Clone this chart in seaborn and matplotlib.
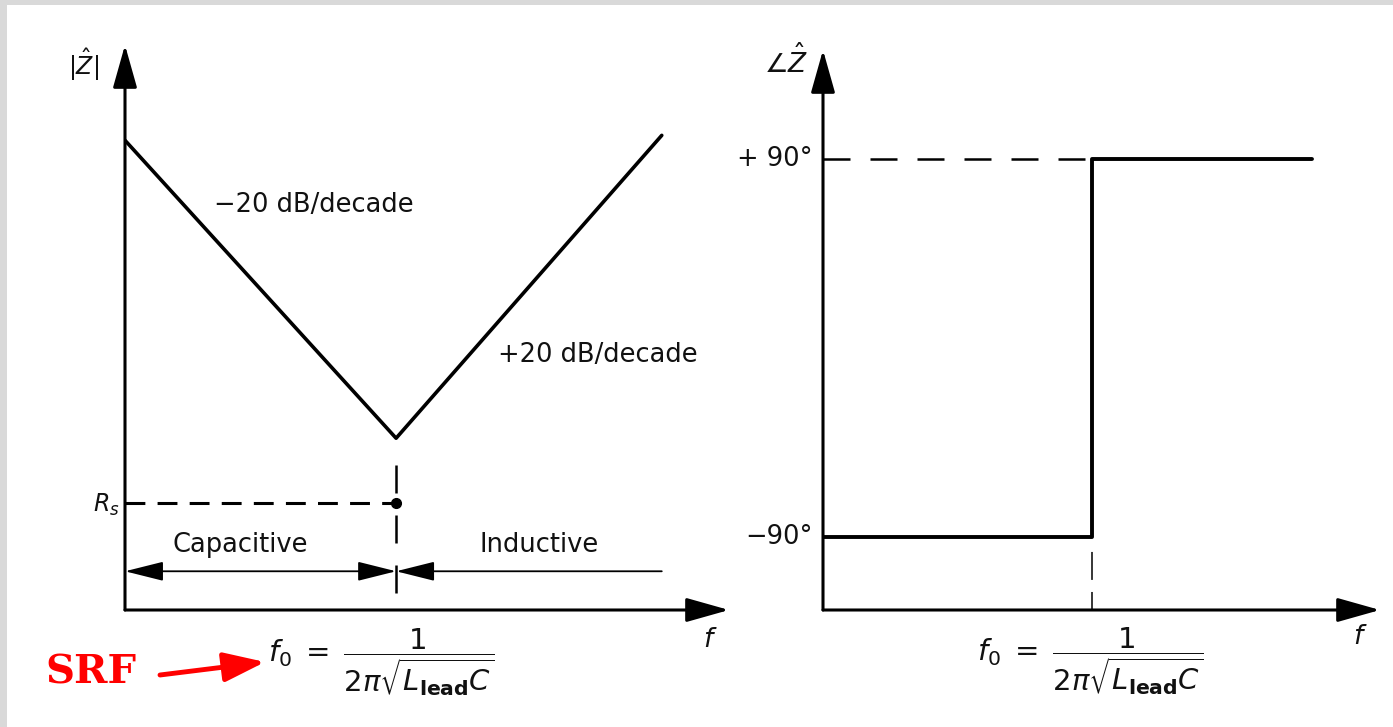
import matplotlib
matplotlib.use("Agg")
import matplotlib.pyplot as plt
from matplotlib.patches import Rectangle
import seaborn as sns

# Impedance magnitude asymptotes: log10(f / f0) in decades, level in dB
mag_logf = [-1.5, 0.0, 1.47]
mag_db = [47.3, 17.3, 47.8]
rs_db = 10.8            # series-resistance floor
f0_logf = 0.0           # self-resonant frequency
region_db = 3.9         # height of the capacitive / inductive span arrows

# Impedance phase: -90 deg below f0, +90 deg above
phase_logf = [-1.489, 0.0, 0.0, 1.217]
phase_deg = [-90, -90, 90, 90]

slope_labels = ["\u221220 dB/decade", "+20 dB/decade"]
slope_label_pos = [(-0.454, 40.8), (1.118, 25.7)]
region_labels = ["Capacitive", "Inductive"]
region_label_pos = [(-0.864, 6.55), (0.791, 6.55)]
phase_ticks = [90, -90]
phase_tick_labels = ["+ 90\u00b0", "\u221290\u00b0"]
srf_formula = r"$f_0\;=\;\dfrac{1}{2\pi\sqrt{L_{\mathbf{lead}}C}}$"

sns.set_theme(style="white")
plt.rcParams["font.family"] = ["DejaVu Sans"]
plt.rcParams["mathtext.fontset"] = "dejavusans"

W, H = 1393, 727
fig = plt.figure(figsize=(W / 100, H / 100), dpi=100)
fig.patch.set_facecolor("white")
# grey margins along the top and left edge of the page
fig.add_artist(Rectangle((0, 1 - 5 / H), 1, 5 / H, transform=fig.transFigure,
                         facecolor="#d9d9d9", lw=0))
fig.add_artist(Rectangle((0, 0), 7 / W, 1, transform=fig.transFigure,
                         facecolor="#d9d9d9", lw=0))

ax1 = fig.add_axes([125 / W, 117 / H, 604 / W, 565 / H])
ax2 = fig.add_axes([823 / W, 117 / H, 557 / W, 560 / H])
ax1.set_xlim(-1.5, 1.842)
ax1.set_ylim(0, 56.9)
ax2.set_xlim(-1.489, 1.594)
ax2.set_ylim(-124.76, 141.9)

TXT = 18.5
INK = "#111111"
axis_arrow = dict(arrowstyle="-|>,head_length=2.2,head_width=0.62", lw=2.2,
                  color="black", shrinkA=0, shrinkB=0)
for ax in (ax1, ax2):
    ax.axis("off")
    ax.annotate("", xy=(0, 1), xytext=(0, 0), xycoords="axes fraction",
                arrowprops=axis_arrow)
    ax.annotate("", xy=(1, 0), xytext=(0, 0), xycoords="axes fraction",
                arrowprops=axis_arrow)

# ---- magnitude plot ----
sns.lineplot(x=mag_logf, y=mag_db, ax=ax1, color="black", lw=2.6,
             sort=False, estimator=None)
ax1.hlines(rs_db, ax1.get_xlim()[0], f0_logf, color="black", lw=2.2,
           linestyle=(0, (6.5, 4)))
ax1.plot(f0_logf, rs_db, "o", color="black", ms=7)
ax1.vlines(f0_logf, 1.7, 14.6, color="black", lw=1.8,
           linestyle=(0, (11.2, 8.8)))

span = dict(lw=1.3, color="black", shrinkA=0, shrinkB=0)
ax1.annotate("", xy=(f0_logf, region_db), xytext=(ax1.get_xlim()[0], region_db),
             arrowprops=dict(arrowstyle="<|-|>,head_length=2.0,head_width=0.5", **span))
ax1.annotate("", xy=(f0_logf, region_db), xytext=(mag_logf[-1], region_db),
             arrowprops=dict(arrowstyle="-|>,head_length=2.0,head_width=0.5", **span))

for lab, (x, y) in zip(slope_labels, slope_label_pos):
    ax1.text(x, y, lab, fontsize=TXT, ha="center", va="center", color=INK)
for lab, (x, y) in zip(region_labels, region_label_pos):
    ax1.text(x, y, lab, fontsize=TXT, ha="center", va="center", color=INK)

ax1.annotate(r"$R_s$", xy=(0, rs_db), xycoords=ax1.get_yaxis_transform(),
             xytext=(-5, -2), textcoords="offset pixels", ha="right", va="center",
             fontsize=17, color=INK)
ax1.annotate(r"$|\hat{Z}|$", xy=(0, 1), xycoords="axes fraction",
             xytext=(-41, -20), textcoords="offset pixels", ha="center", va="center",
             fontsize=17, color=INK)
ax1.annotate(r"$f$", xy=(1, 0), xycoords="axes fraction",
             xytext=(-19, -30), textcoords="offset pixels", ha="center", va="center",
             fontsize=19, color=INK)
ax1.annotate(srf_formula, xy=(f0_logf, 0), xycoords=ax1.get_xaxis_transform(),
             xytext=(-15, -52), textcoords="offset pixels", ha="center", va="center",
             fontsize=21, color=INK)

# SRF call-out
ax1.annotate("SRF", xy=(-34, -63), xycoords="axes pixels", ha="center", va="center",
             fontsize=29, fontweight="bold", family="DejaVu Serif", color="#ff0000")
ax1.annotate("", xy=(140, -52), xytext=(35, -65), xycoords="axes pixels",
             arrowprops=dict(arrowstyle="-|>,head_length=2.1,head_width=0.75", lw=3.5,
                             color="#ff0000", shrinkA=0, shrinkB=0))

# ---- phase plot ----
sns.lineplot(x=phase_logf, y=phase_deg, ax=ax2, color="black", lw=2.8,
             sort=False, estimator=None)
ax2.hlines(phase_deg[-1], ax2.get_xlim()[0], f0_logf, color="black", lw=1.8,
           linestyle=(0, (10.8, 8)))
ax2.vlines(f0_logf, ax2.get_ylim()[0], phase_deg[0], color="black", lw=1.1,
           linestyle=(0, (11.8, 7.9, 18.3, 12)))
for val, lab in zip(phase_ticks, phase_tick_labels):
    ax2.annotate(lab, xy=(0, val), xycoords=ax2.get_yaxis_transform(),
                 xytext=(-10, 0), textcoords="offset pixels", ha="right", va="center",
                 fontsize=TXT, color=INK)
ax2.annotate(r"$\angle\hat{Z}$", xy=(0, 1), xycoords="axes fraction",
             xytext=(-37, -12), textcoords="offset pixels", ha="center", va="center",
             fontsize=19, color=INK)
ax2.annotate(r"$f$", xy=(1, 0), xycoords="axes fraction",
             xytext=(-20, -27), textcoords="offset pixels", ha="center", va="center",
             fontsize=19, color=INK)
ax2.annotate(srf_formula, xy=(f0_logf, 0), xycoords=ax2.get_xaxis_transform(),
             xytext=(-2, -51), textcoords="offset pixels", ha="center", va="center",
             fontsize=21, color=INK)

fig.savefig("out.png", dpi=100, facecolor="white")
